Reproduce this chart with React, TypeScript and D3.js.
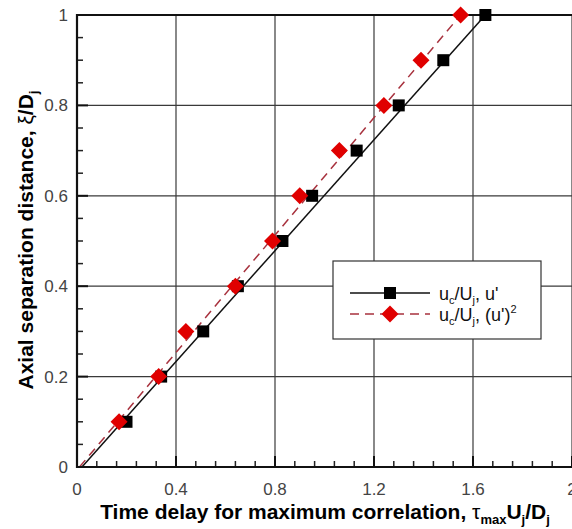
import React from "react";
import * as d3 from "d3";

// Axial separation levels (xi/Dj) at which the time delays were measured
const separation = [0.1, 0.2, 0.3, 0.4, 0.5, 0.6, 0.7, 0.8, 0.9, 1.0];
// Time delay for maximum correlation, tau_max Uj/Dj, from u'
const delayU = [0.2, 0.34, 0.51, 0.65, 0.83, 0.95, 1.13, 1.3, 1.48, 1.65];
// Time delay for maximum correlation, from (u')^2
const delayU2 = [0.17, 0.33, 0.44, 0.64, 0.79, 0.9, 1.06, 1.24, 1.39, 1.55];

// Straight-line fits through each series: [separation, delay] end points
const fitU = [
  [0, 0.02],
  [1, 1.65],
];
const fitU2 = [
  [0, 0.01],
  [1, 1.55],
];

const xMajor = [0, 0.4, 0.8, 1.2, 1.6, 2];
const xLabels = ["0", "0.4", "0.8", "1.2", "1.6", "2"];
const yMajor = [0, 0.2, 0.4, 0.6, 0.8, 1];
const yLabels = ["0", "0.2", "0.4", "0.6", "0.8", "1"];

const W = 572;
const H = 529;
const font = "Arial, 'Liberation Sans', Helvetica, sans-serif";

export default function App() {
  const x = d3.scaleLinear().domain([0, 2]).range([77, 572]);
  const y = d3.scaleLinear().domain([0, 1]).range([467, 15]);

  const xMinor = d3.range(0, 2.0001, 0.08).filter((v) => !xMajor.some((m) => Math.abs(m - v) < 1e-6));
  const yMinor = d3.range(0, 1.0001, 0.05).filter((v) => !yMajor.some((m) => Math.abs(m - v) < 1e-6));

  const line = d3
    .line<number[]>()
    .x((d) => x(d[1]))
    .y((d) => y(d[0]));

  const sq = 12;
  const dia = 8.5;
  const diamond = (cx: number, cy: number) =>
    `M${cx},${cy - dia}L${cx + dia},${cy}L${cx},${cy + dia}L${cx - dia},${cy}Z`;

  const gridColor = "#3a3a3a";
  const red = "#e00000";
  const dashRed = "#a8323e";

  const lx = 333;
  const ly = 261;

  return (
    <svg
      width={W}
      height={H}
      style={{ position: "absolute", left: 0, top: 0, background: "#fff" }}
      fontFamily={font}
    >
      {/* grid */}
      {xMajor.slice(1).map((v) => (
        <line key={"gx" + v} x1={x(v)} x2={x(v)} y1={y(0)} y2={y(1)} stroke={gridColor} strokeWidth={1.2} />
      ))}
      {yMajor.slice(1).map((v) => (
        <line
          key={"gy" + v}
          x1={x(0)}
          x2={x(2)}
          y1={y(v)}
          y2={y(v)}
          stroke={v === 1 ? "#111" : gridColor}
          strokeWidth={v === 1 ? 2 : 1.2}
        />
      ))}

      {/* minor ticks */}
      {xMinor.map((v) => (
        <line key={"mx" + v} x1={x(v)} x2={x(v)} y1={y(0)} y2={y(0) - 6} stroke="#222" strokeWidth={1.5} />
      ))}
      {xMajor.map((v) => (
        <line key={"Mx" + v} x1={x(v)} x2={x(v)} y1={y(0)} y2={y(0) - 11} stroke="#111" strokeWidth={2} />
      ))}
      {yMinor.map((v) => (
        <line key={"my" + v} x1={x(0)} x2={x(0) + 6} y1={y(v)} y2={y(v)} stroke="#222" strokeWidth={1.5} />
      ))}
      {yMajor.map((v) => (
        <line key={"My" + v} x1={x(0)} x2={x(0) + 11} y1={y(v)} y2={y(v)} stroke="#111" strokeWidth={2} />
      ))}

      {/* fit lines */}
      <path d={line(fitU) ?? ""} fill="none" stroke="#111" strokeWidth={1.5} />
      <path d={line(fitU2) ?? ""} fill="none" stroke={dashRed} strokeWidth={1.5} strokeDasharray="9,6" />

      {/* markers */}
      {separation.map((s, i) => (
        <rect key={"s" + i} x={x(delayU[i]) - sq / 2} y={y(s) - sq / 2} width={sq} height={sq} fill="#000" />
      ))}
      {separation.map((s, i) => (
        <path key={"d" + i} d={diamond(x(delayU2[i]), y(s))} fill={red} />
      ))}

      {/* axes */}
      <line x1={x(0)} x2={x(0)} y1={y(0) + 1} y2={y(1) - 1} stroke="#111" strokeWidth={2.2} />
      <line x1={x(0) - 1} x2={x(2)} y1={y(0)} y2={y(0)} stroke="#111" strokeWidth={2.2} />

      {/* tick labels */}
      {xMajor.map((v, i) => (
        <text key={"tx" + v} x={x(v)} y={495} textAnchor="middle" fontSize={17} fill="#444">
          {xLabels[i]}
        </text>
      ))}
      {yMajor.map((v, i) => (
        <text key={"ty" + v} x={68} y={y(v) + 6} textAnchor="end" fontSize={17} fill="#444">
          {yLabels[i]}
        </text>
      ))}

      {/* axis titles */}
      <text x={325} y={519} textAnchor="middle" fontSize={21} fontWeight="bold" fill="#000">
        Time delay for maximum correlation,{" "}
        <tspan fontWeight="normal">τ</tspan>
        <tspan fontSize={13} dy={5}>max</tspan>
        <tspan dy={-5}>U</tspan>
        <tspan fontSize={13} dy={5}>j</tspan>
        <tspan dy={-5}>/D</tspan>
        <tspan fontSize={13} dy={5}>j</tspan>
      </text>
      <text
        transform={`translate(33,240) rotate(-90)`}
        textAnchor="middle"
        fontSize={21}
        fontWeight="bold"
        fill="#000"
      >
        Axial separation distance,{" "}
        <tspan fontWeight="normal">ξ</tspan>
        <tspan>/D</tspan>
        <tspan fontSize={13} dy={5}>j</tspan>
      </text>

      {/* legend */}
      <rect x={lx} y={ly} width={208} height={78} fill="#fff" stroke="#333" strokeWidth={1.2} />
      <line x1={lx + 17} x2={lx + 97} y1={ly + 32} y2={ly + 32} stroke="#111" strokeWidth={1.5} />
      <rect x={lx + 57 - sq / 2} y={ly + 32 - sq / 2} width={sq} height={sq} fill="#000" />
      <line
        x1={lx + 17}
        x2={lx + 97}
        y1={ly + 53}
        y2={ly + 53}
        stroke={dashRed}
        strokeWidth={1.5}
        strokeDasharray="9,6"
      />
      <path d={diamond(lx + 57, ly + 53)} fill={red} />
      <text x={lx + 106} y={ly + 39} fontSize={18} fill="#111">
        u<tspan fontSize={11} dy={4}>c</tspan>
        <tspan dy={-4}>/U</tspan>
        <tspan fontSize={11} dy={4}>j</tspan>
        <tspan dy={-4}>, u'</tspan>
      </text>
      <text x={lx + 106} y={ly + 60} fontSize={18} fill="#111">
        u<tspan fontSize={11} dy={4}>c</tspan>
        <tspan dy={-4}>/U</tspan>
        <tspan fontSize={11} dy={4}>j</tspan>
        <tspan dy={-4}>, (u')</tspan>
        <tspan fontSize={11} dy={-8}>2</tspan>
      </text>
    </svg>
  );
}
